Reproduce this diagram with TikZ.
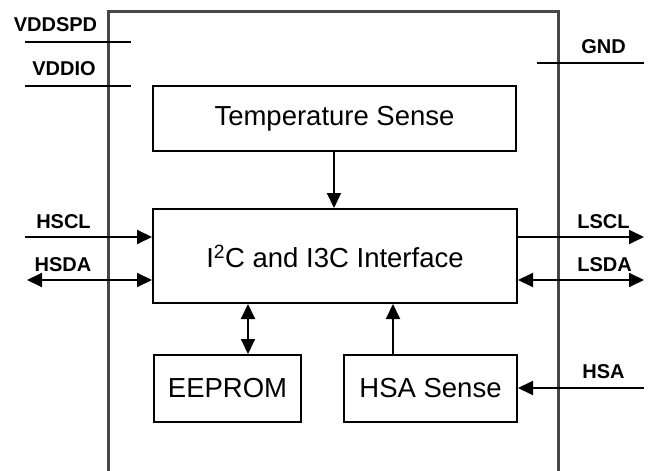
\documentclass[tikz,border=0pt]{standalone}
\usepackage{fontspec}
\setmainfont{Liberation Sans}
\usetikzlibrary{arrows.meta}
\tikzset{
  blk/.style={draw=black, line width=2pt, rectangle, inner sep=0pt,
    font=\fontsize{27.5}{32}\selectfont},
  pinlabel/.style={font=\fontsize{20}{24}\selectfont\bfseries, inner sep=0pt},
  wire/.style={line width=2pt, draw=black},
  tip/.style={-{Triangle[length=15pt,width=14pt]}},
  biptip/.style={{Triangle[length=15pt,width=14pt]}-{Triangle[length=15pt,width=14pt]}},
  frame/.style={line width=3pt, draw=black!72}
}
\begin{document}
\begin{tikzpicture}[x=1pt,y=-1pt]
\useasboundingbox (0,0) rectangle (649,471);
\clip (0,0) rectangle (649,471);
% outer chip frame
\draw[frame] (108,480) -- (108,11) -- (558,11) -- (558,480);

% blocks
\node[blk, minimum width=363pt, minimum height=65pt] (temp) at (334.5,118.5) {Temperature Sense};
\node[blk, minimum width=364pt, minimum height=94pt] (iface) at (335,256) {I\textsuperscript{2}C and I3C Interface};
\node[blk, minimum width=147pt, minimum height=67pt] (eeprom) at (227.5,388.5) {EEPROM};
\node[blk, minimum width=173pt, minimum height=67pt] (hsa) at (430.5,388.5) {HSA Sense};

% internal connectors
\coordinate (xt) at (334,0);
\coordinate (xe) at (248,0);
\coordinate (xh) at (393,0);
\draw[wire, tip] (temp.south -| xt) -- (iface.north -| xt);
\draw[wire, biptip] (iface.south -| xe) -- (eeprom.north -| xe);
\draw[wire, tip] (hsa.north -| xh) -- (iface.south -| xh);

% supply pins
\coordinate (vs1) at (25,42);
\coordinate (vs2) at (131,42);
\coordinate (vi1) at (25,86);
\coordinate (vi2) at (131,86);
\coordinate (g1) at (537,63);
\coordinate (g2) at (644,63);
\draw[wire] (vs1) -- (vs2);
\draw[wire] (vi1) -- (vi2);
\draw[wire] (g1) -- (g2);
\node[pinlabel] (lvddspd) at (55.5,25) {VDDSPD};
\node[pinlabel] (lvddio) at (64,69) {VDDIO};
\node[pinlabel] (lgnd) at (603.5,47) {GND};

% signal pins
\coordinate (hscl) at (25,237);
\coordinate (hsda) at (27,280);
\coordinate (lscl) at (644,237);
\coordinate (lsda) at (644,280);
\coordinate (hsap) at (644,388);
\draw[wire, tip] (hscl) -- (iface.west |- hscl);
\draw[wire, biptip] (hsda) -- (iface.west |- hsda);
\draw[wire, tip] (iface.east |- lscl) -- (lscl);
\draw[wire, biptip] (iface.east |- lsda) -- (lsda);
\draw[wire, tip] (hsap) -- (hsa.east |- hsap);
\node[pinlabel] (lhscl) at (63.5,222) {HSCL};
\node[pinlabel] (lhsda) at (63,265) {HSDA};
\node[pinlabel] (llscl) at (603.5,222) {LSCL};
\node[pinlabel] (llsda) at (604.5,265) {LSDA};
\node[pinlabel] (lhsa) at (603.5,372) {HSA};
\end{tikzpicture}
\end{document}
